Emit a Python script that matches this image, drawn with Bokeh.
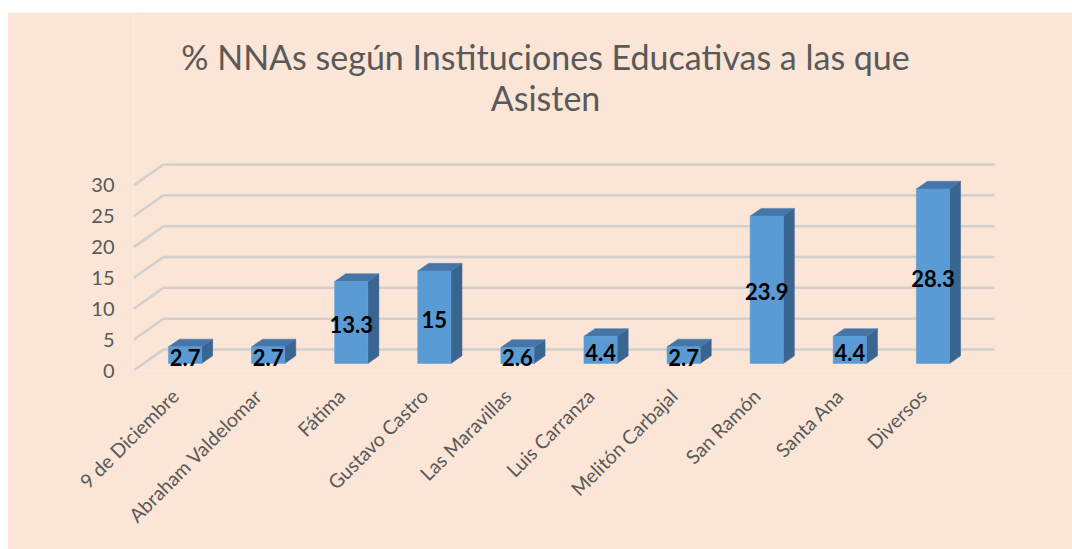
import math
from bokeh.plotting import figure
from bokeh.models import FixedTicker, Range1d
from bokeh.core.properties import value
from bokeh.embed import file_html
from bokeh.resources import INLINE

# ---- data ----
categories = ["9 de Diciembre", "Abraham Valdelomar", "Fátima", "Gustavo Castro",
              "Las Maravillas", "Luis Carranza", "Melitón Carbajal", "San Ramón",
              "Santa Ana", "Diversos"]
values = [2.7, 2.7, 13.3, 15, 2.6, 4.4, 2.7, 23.9, 4.4, 28.3]
y_ticks = [0, 5, 10, 15, 20, 25, 30]
title_lines = ["% NNAs según Instituciones Educativas a las que", "Asisten"]

# ---- style / geometry ----
PEACH = "#FBE5D6"
GREY_TXT = "#595959"
GRID = "#D2CECB"
FRONT = "#5B9BD5"
TOP = "#4676A8"
SIDE = "#3A6590"

PX_X = 83.1      # pixels per category
PX_Y = 6.1667    # pixels per value unit
DX = 30 / PX_X   # depth offset (x units) of the full floor depth
DY = 21 / PX_Y   # depth offset (y units)
T0, T1 = 1 / 3, 0.70   # bar front / back depth fractions
HW = 0.2               # half bar width

p = figure(width=1065, height=537, margin=(12, 0, 0, 7),
           x_range=Range1d(-0.5, -0.5 + 939 / PX_X),
           y_range=Range1d(0, 358 / PX_Y),
           output_backend="svg", toolbar_location=None,
           min_border_left=126, min_border_right=0,
           min_border_top=0, min_border_bottom=179)
p.background_fill_color = PEACH
p.border_fill_color = PEACH
p.outline_line_color = None
p.xgrid.visible = False
p.ygrid.visible = False

# axes
p.yaxis.ticker = FixedTicker(ticks=y_ticks)
p.yaxis.axis_line_color = None
p.yaxis.major_tick_line_color = None
p.yaxis.minor_tick_line_color = None
p.yaxis.major_tick_out = 0
p.yaxis.major_label_standoff = 19
p.yaxis.major_label_text_font = "Lato"
p.yaxis.major_label_text_font_size = "20px"
p.yaxis.major_label_text_color = GREY_TXT

p.xaxis.ticker = FixedTicker(ticks=list(range(len(categories))))
p.xaxis.major_label_overrides = {i: c for i, c in enumerate(categories)}
p.xaxis.major_label_orientation = math.pi / 4
p.xaxis.axis_line_color = None
p.xaxis.major_tick_line_color = None
p.xaxis.minor_tick_line_color = None
p.xaxis.major_tick_out = 0
p.xaxis.major_label_standoff = 22
p.xaxis.major_label_text_font = "Lato"
p.xaxis.major_label_text_font_size = "19.5px"
p.xaxis.major_label_text_color = GREY_TXT

# 3D gridlines: side diagonals and back wall
n = len(categories)
x_left = -0.5
x_right = n - 0.5
p.segment(x0=[x_left] * len(y_ticks), y0=y_ticks,
          x1=[x_left + DX] * len(y_ticks), y1=[v + DY for v in y_ticks],
          line_color=GRID, line_width=2.5)
p.segment(x0=[x_left + DX] * len(y_ticks), y0=[v + DY for v in y_ticks],
          x1=[x_right + DX] * len(y_ticks), y1=[v + DY for v in y_ticks],
          line_color=GRID, line_width=2.5)

# bars
xs = list(range(n))
L0 = [i - HW + T0 * DX for i in xs]
R0 = [i + HW + T0 * DX for i in xs]
B0 = T0 * DY
top0 = [v + B0 for v in values]
ddx = (T1 - T0) * DX
ddy = (T1 - T0) * DY

side_x = [[r, r, r + ddx, r + ddx] for r in R0]
side_y = [[B0, t, t + ddy, B0 + ddy] for t in top0]
p.patches(side_x, side_y, fill_color=SIDE, line_color=SIDE, line_width=0.5)

top_x = [[l, r, r + ddx, l + ddx] for l, r in zip(L0, R0)]
top_y = [[t, t, t + ddy, t + ddy] for t in top0]
p.patches(top_x, top_y, fill_color=TOP, line_color=TOP, line_width=0.5)

p.quad(left=L0, right=R0, bottom=[B0] * n, top=top0,
       fill_color=FRONT, line_color=FRONT, line_width=0.5)

# data labels
p.text(x=[(l + r) / 2 for l, r in zip(L0, R0)],
       y=[B0 + v / 2 - 0.35 for v in values],
       text=[f"{v:g}" for v in values],
       text_align="center", text_baseline="middle",
       text_font=value("Lato"), text_font_style="bold",
       text_font_size="22px", text_color="black")

# title
tx = (545 - 133) / PX_X - 0.5
p.text(x=[tx, tx], y=[(370 - 56) / PX_Y, (370 - 97) / PX_Y],
       text=title_lines, text_align="center", text_baseline="alphabetic",
       text_font=value("Lato"), text_font_size="34px", text_color=GREY_TXT)

open("out.html", "w").write(file_html(p, INLINE))
